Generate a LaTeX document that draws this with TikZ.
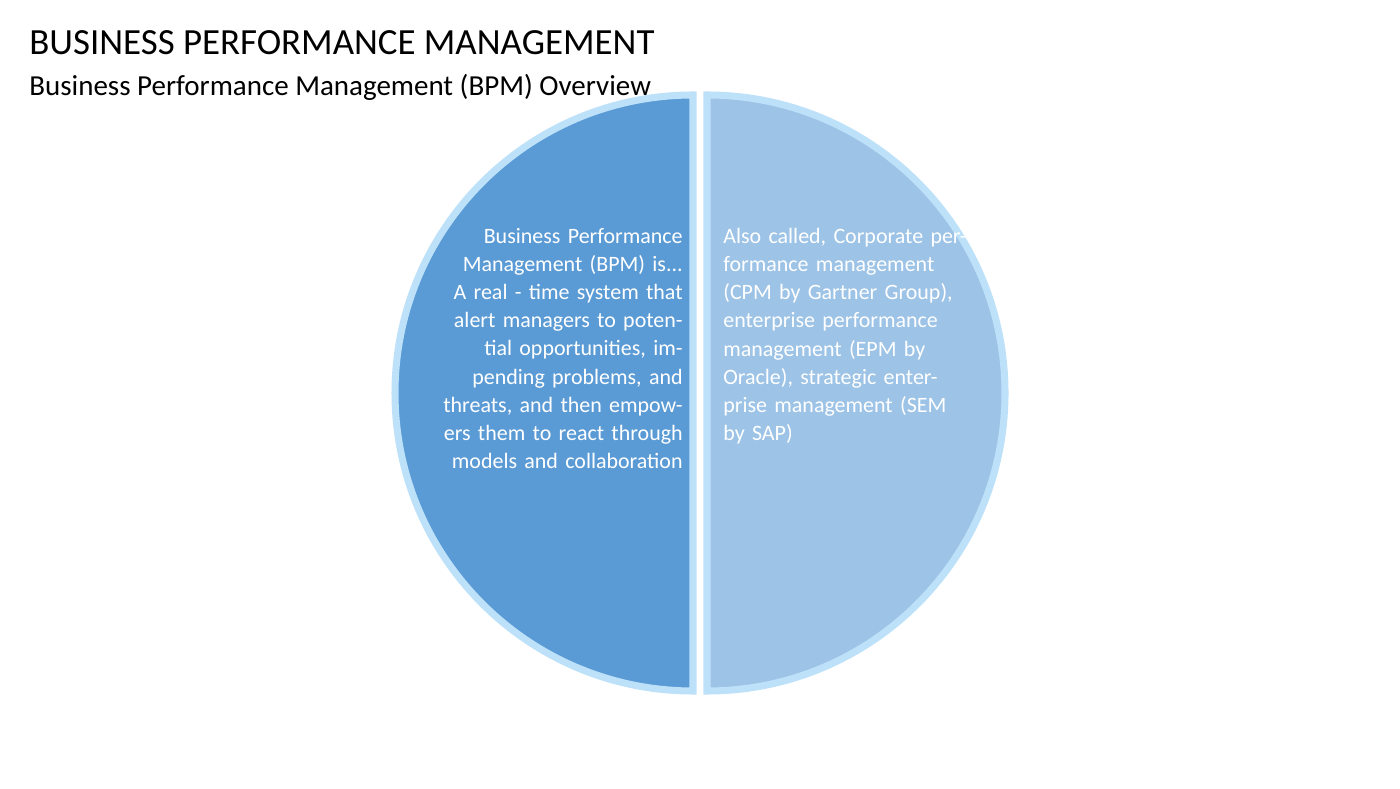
\documentclass[tikz,border=0pt]{standalone}
\usepackage{fontspec}
\setmainfont{Carlito}
\definecolor{leftcolor}{RGB}{91,155,213}
\definecolor{rightcolor}{RGB}{157,195,230}
\definecolor{glowcolor}{RGB}{190,225,250}
\begin{document}
\begin{tikzpicture}[
    x=0.02cm, y=0.02cm,
    half/.style={draw=glowcolor, line width=4pt},
    body/.style={text=white, font=\fontsize{12.5}{16}\selectfont, text width=4.9cm, inner sep=0pt},
    title/.style={anchor=west, inner sep=0pt}
]
    \useasboundingbox (0,0) rectangle (1400,788);
    % Half discs
    \filldraw[half, fill=leftcolor] (693,693) arc (90:270:298) -- cycle;
    \filldraw[half, fill=rightcolor] (707,693) arc (90:-90:298) -- cycle;

    % Titles
    \node[title, font=\fontsize{21}{25}\selectfont] (head) at (29,745) {BUSINESS PERFORMANCE MANAGEMENT};
    \node[title, font=\fontsize{16.5}{20}\selectfont] (sub) at (29,701) {Business Performance Management (BPM) Overview};

    % Texts
    \node[body, align=right, anchor=north east] (lefttext) at (683,560) {Business Performance Management (BPM) is...\\A real - time system that alert managers to potential opportunities, impending problems, and threats, and then empowers them to react through models and collaboration};
    \node[body, align=left, anchor=north west] (righttext) at (723,560) {Also called, Corporate performance management (CPM by Gartner Group), enterprise performance management (EPM by Oracle), strategic enterprise management (SEM by SAP)};
\end{tikzpicture}
\end{document}
